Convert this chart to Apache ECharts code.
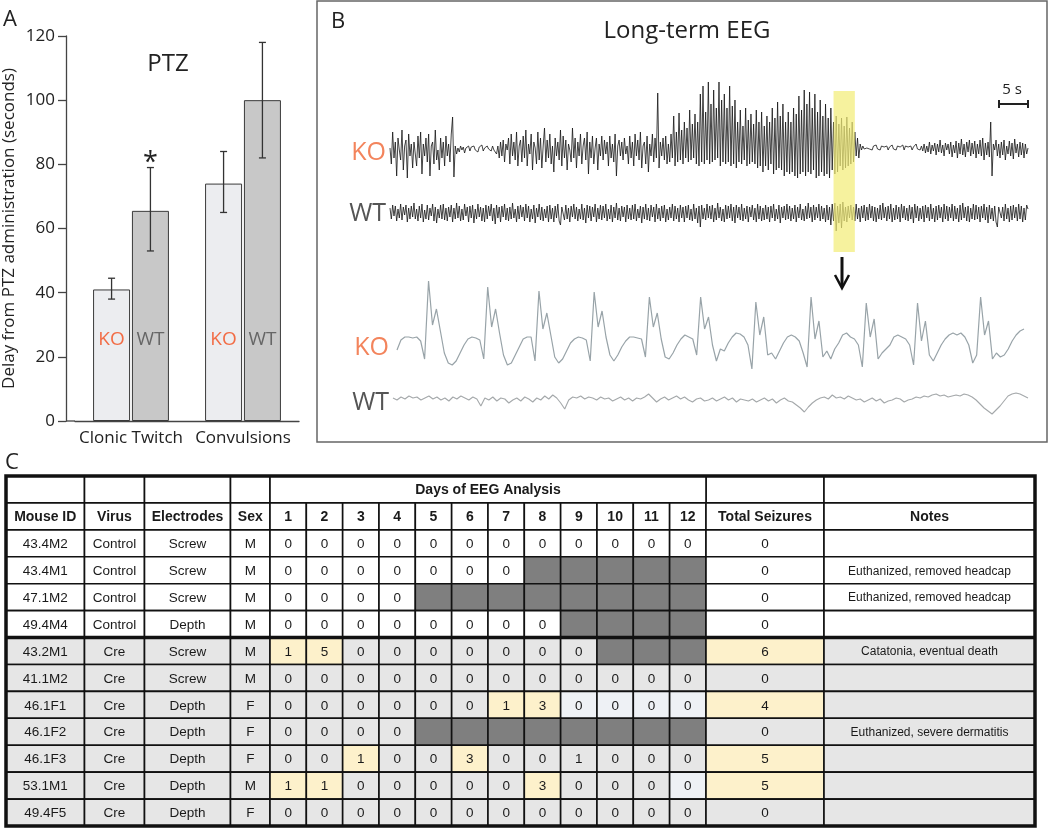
<!DOCTYPE html>
<html>
<head>
<meta charset="utf-8">
<script src="https://cdn.jsdelivr.net/npm/echarts@6/dist/echarts.min.js"></script>
<style>
  html, body { margin: 0; padding: 0; background: #fff; }
  #chart { width: 1050px; height: 831px; }
</style>
</head>
<body>
<div id="chart"></div>
<script>
// ---------- panel A : PTZ latency ----------
const ptzCategories = ["Clonic Twitch", "Convulsions"];
const koMeans = [41, 74];
const koErrLow = [38, 65];
const koErrHigh = [44.5, 84];
const wtMeans = [65.5, 100];
const wtErrLow = [53, 82];
const wtErrHigh = [79, 118];
const significance = ["*", ""];

// ---------- panel B : EEG traces ----------
const koLongTrace = [
  4,-12,20,-6,10,-24,14,2,-8,22,-18,6,12,-26,18,-4,8,-16,10,-2,
  -14,16,-6,20,-22,8,-4,14,-10,18,-24,6,10,-12,22,-8,2,-18,14,-6,
  10,-14,16,-4,8,-10,18,35,-25,6,-2,4,0,6,2,5,-1,4,3,6,
  1,5,3,6,2,4,0,5,3,7,1,4,2,6,3,5,1,6,2,4,
  -2,6,-6,10,-4,12,-10,8,2,14,-12,18,-4,10,-8,20,-14,6,12,-10,
  16,-6,22,-14,8,-2,18,-18,10,4,-12,20,-8,14,-16,6,24,-10,12,-6,
  18,-12,6,-20,14,-4,10,-8,22,-14,16,-6,12,-18,8,2,-10,24,-6,14,
  -16,10,-4,18,-12,6,14,-8,20,-22,10,-6,16,-12,4,14,-18,8,-4,16,
  -8,12,-2,10,-14,16,-6,8,-10,18,-24,6,12,-4,10,-8,14,-2,6,-12,
  16,-6,10,-14,18,-4,12,-8,20,-16,6,10,-12,16,-20,8,-4,18,-10,14,
  -6,59,-16,10,-4,14,-8,16,-12,8,-10,18,-6,36,-14,20,-10,39,-8,22,
  -12,30,-6,24,-10,42,-8,28,-6,38,-12,30,-14,58,-10,66,-12,40,-8,70,
  -12,48,-10,62,-8,44,-6,70,-14,52,-10,58,-12,44,-10,66,-14,46,-12,52,
  -16,30,-10,42,-12,26,-8,44,-14,32,-12,38,-10,28,-12,42,-16,30,-14,40,
  -20,26,-14,36,-18,30,-12,44,-22,34,-18,50,-16,36,-18,48,-24,30,-20,40,
  -22,30,-20,44,-24,38,-26,56,-22,42,-20,62,-24,48,-20,60,-22,44,-18,58,
  -26,40,-24,52,-20,36,-24,48,-22,34,-26,44,-18,30,-22,36,-20,28,-14,34,
  -18,26,-16,35,-14,24,-12,30,-10,20,-4,14,-6,8,2,6,3,5,4,6,
  3,5,2,6,4,7,3,5,2,6,4,5,3,6,2,5,4,7,3,5,
  2,6,4,5,3,7,2,6,4,5,3,6,2,5,4,8,3,5,2,6,
  1,8,-1,6,0,10,-2,7,1,9,-3,8,0,12,-1,7,-4,9,2,8,
  -2,10,-5,7,-1,11,-6,9,-2,13,-3,8,-5,10,0,12,-4,9,-2,11,
  -6,8,-2,12,-4,14,-8,9,-3,10,-5,30,-24,8,2,12,-4,8,-6,10,
  -3,12,-8,6,-2,11,-4,9,-7,13,-1,8,-5,10,-3,9,-6,8,-2,4
];
const wtLongTrace = [
  5,-6,8,-3,7,-8,4,-5,9,-7,6,-2,8,-9,5,-6,7,-4,10,-6,
  4,-8,7,-5,9,-9,3,-6,8,-7,5,-3,9,-8,6,-10,4,-5,8,-6,
  9,-7,5,-8,6,-4,8,-9,5,-6,10,-5,7,-8,4,-7,9,-3,6,-9,
  7,-5,8,-10,4,-6,9,-4,6,-8,5,-9,8,-6,7,-3,9,-8,5,-11,
  8,-5,6,-9,7,-4,9,-7,5,-8,6,-6,10,-5,4,-9,7,-6,8,-4,
  6,-8,9,-5,7,-9,4,-6,8,-10,5,-4,9,-7,6,-8,4,-5,7,-9,
  8,-6,5,-9,7,-5,9,-8,-12,6,4,-7,8,-6,5,-9,7,-4,9,-6,
  6,-8,4,-6,9,-7,5,-10,8,-5,7,-8,6,-4,9,-9,5,-6,8,-7,
  7,-5,9,-8,4,-6,8,-9,6,-5,10,-7,5,-8,7,-4,6,-9,8,-6,
  5,-7,8,-6,9,-8,4,-5,7,-10,6,-6,9,-7,5,-8,8,-4,6,-9,
  9,-6,5,-8,7,-5,8,-9,4,-7,6,-5,9,-8,7,-6,5,-9,8,-5,
  6,-9,7,-5,8,-7,4,-8,9,-6,5,-10,7,-14,8,-6,5,-7,9,-5,
  7,-6,8,-9,5,-7,10,-5,6,-8,4,-9,8,-6,7,-5,9,-8,6,-10,
  8,-5,6,-7,9,-8,5,-6,7,-9,6,-4,8,-7,5,-9,9,-6,7,-8,
  5,-7,8,-6,6,-9,7,-5,9,-8,4,-6,8,-10,6,-5,7,-7,9,-6,
  7,-8,5,-6,8,-9,6,-5,9,-7,4,-8,7,-6,10,-5,6,-9,8,-7,
  6,-5,9,-8,7,-6,5,-9,8,-7,6,-12,9,-8,10,-18,7,-10,9,-15,
  11,-8,6,-9,7,-5,8,-7,6,-8,9,-6,5,-9,7,-5,8,-8,6,-7,
  9,-5,7,-8,6,-9,5,-6,8,-7,10,-5,6,-8,7,-6,9,-9,5,-7,
  8,-6,6,-9,9,-5,7,-7,5,-8,8,-6,6,-10,9,-5,7,-8,5,-6,
  7,-9,8,-5,6,-8,9,-6,5,-9,7,-7,8,-5,6,-9,9,-6,7,-8,
  6,-5,9,-8,7,-6,5,-9,8,-7,10,-5,6,-8,7,-9,5,-6,9,-7,
  8,-6,6,-9,7,-5,9,-7,6,-10,8,-6,5,-8,7,-9,-14,6,8,-5,
  6,-8,9,-6,5,-9,7,-7,8,-5,6,-8,9,-6,7,-9,5,-7,8,4
];
const highlightWindow = [333, 349];   // sample range that is expanded below

const koZoomTrace = [
  -25,-15,-12,-12,-13,-12,-16,-34,44,0,
  16,-6,-28,-38,-40,-36,-28,-20,-14,-12,
  -13,-15,-34,38,-2,16,-8,-30,-40,-38,
  -30,-22,-14,-12,-12,-36,34,-4,12,-10,
  -32,-38,-34,-26,-18,-14,-12,-13,-15,-36,
  33,-2,14,-12,-30,-36,-30,-22,-16,-12,
  -12,-13,-14,-32,28,-2,12,-14,-32,-34,
  -28,-20,-14,-10,-12,-14,-30,28,-4,8,
  -20,-36,-24,-26,-18,-12,-8,-9,-12,-20,
  -44,23,-10,8,-30,-28,-34,-26,-18,-12,
  -10,-12,-16,-28,-42,28,-14,4,-32,-26,
  -34,-24,-18,-10,-8,-12,-14,-20,-42,22,
  -12,6,-34,-28,-24,-20,-12,-10,-12,-14,
  -20,-40,22,-16,4,-30,-36,-28,-20,-14,
  -10,-8,-10,-8,-12,-20,-38,-30,28,-10,
  4,-34,-28,-32,-30,-24,-16,-10,-6,-4
];
const wtZoomTrace = [
  2,0,3,1,4,2,3,0,2,4,
  1,3,0,2,-1,3,1,4,2,0,
  3,1,-6,2,0,3,-1,2,1,-3,
  0,2,-1,3,1,-2,2,0,4,1,
  5,2,-3,-9,0,3,2,4,1,3,
  2,0,3,1,2,-1,1,3,0,2,
  -1,2,1,3,6,2,-2,1,3,0,
  2,4,1,3,0,-2,1,2,-1,0,
  2,-1,1,3,0,2,-2,1,0,-1,
  1,-2,0,2,-1,1,-3,0,2,-1,
  -2,-5,-8,-12,-7,-3,0,2,3,1,
  5,2,3,1,4,2,0,1,-2,0,
  2,-1,1,-3,-1,0,2,1,-2,0,
  1,3,2,4,3,5,6,4,5,3,
  4,5,4,6,5,3,0,-4,-8,-11,
  -14,-10,-6,-1,4,6,7,6,4,2
];

// ---------- panel C : seizure table ----------
const columnNames = ["Mouse ID", "Virus", "Electrodes", "Sex",
  "1", "2", "3", "4", "5", "6", "7", "8", "9", "10", "11", "12",
  "Total Seizures", "Notes"];
const mouseIds = ["43.4M2", "43.4M1", "47.1M2", "49.4M4", "43.2M1", "41.1M2",
  "46.1F1", "46.1F2", "46.1F3", "53.1M1", "49.4F5"];
const viruses = ["Control", "Control", "Control", "Control", "Cre", "Cre",
  "Cre", "Cre", "Cre", "Cre", "Cre"];
const electrodes = ["Screw", "Screw", "Screw", "Depth", "Screw", "Screw",
  "Depth", "Depth", "Depth", "Depth", "Depth"];
const sexes = ["M", "M", "M", "M", "M", "M", "F", "F", "F", "M", "F"];
// null = no recording that day
const seizuresPerDay = [
  [0, 0, 0, 0, 0, 0, 0, 0, 0, 0, 0, 0],
  [0, 0, 0, 0, 0, 0, 0, null, null, null, null, null],
  [0, 0, 0, 0, null, null, null, null, null, null, null, null],
  [0, 0, 0, 0, 0, 0, 0, 0, null, null, null, null],
  [1, 5, 0, 0, 0, 0, 0, 0, 0, null, null, null],
  [0, 0, 0, 0, 0, 0, 0, 0, 0, 0, 0, 0],
  [0, 0, 0, 0, 0, 0, 1, 3, 0, 0, 0, 0],
  [0, 0, 0, 0, null, null, null, null, null, null, null, null],
  [0, 0, 1, 0, 0, 3, 0, 0, 1, 0, 0, 0],
  [1, 1, 0, 0, 0, 0, 0, 3, 0, 0, 0, 0],
  [0, 0, 0, 0, 0, 0, 0, 0, 0, 0, 0, 0]
];
const totalSeizures = [0, 0, 0, 0, 6, 0, 4, 0, 5, 5, 0];
const notes = ["", "Euthanized, removed headcap", "Euthanized, removed headcap", "",
  "Catatonia, eventual death", "", "", "Euthanized, severe dermatitis", "", "", ""];
const notHighlighted = [["46.1F3", 9]];   // cells with seizures left unshaded in the source
const paleCells = [["46.1F1", 9], ["46.1F1", 10], ["46.1F1", 11], ["46.1F1", 12], ["53.1M1", 12]];

// ---------- layout ----------
const FONT = "'Open Sans', sans-serif";
const TFONT = "'Liberation Sans', Arial, sans-serif";
const BAR_W = 37;
const BAR_GAP = 0.05;
const colWidths = [78.5, 60, 86, 39.5,
  36.33, 36.33, 36.33, 36.33, 36.33, 36.33, 36.33, 36.33, 36.33, 36.33, 36.33, 36.37,
  118, 211];
const colStart = [0];
colWidths.forEach((w, i) => colStart.push(colStart[i] + w));
const TABLE = { left: 6, top: 476, width: 1029, height: 350, rows: 13 };

// ---------- table cells ----------
const tableCells = [];
function addCell(c0, c1, row, text, fill, opts) {
  tableCells.push(Object.assign({ c0, c1, row, text, fill, bold: false, size: 13.5 }, opts || {}));
}
const inList = (list, id, day) => list.some(([m, d]) => m === id && d === day);
[[0, 1], [1, 2], [2, 3], [3, 4], [16, 17], [17, 18]].forEach(([a, b]) => addCell(a, b, 0, "", "#fff"));
addCell(4, 16, 0, "Days of EEG Analysis", "#fff", { bold: true, size: 14 });
columnNames.forEach((n, c) => addCell(c, c + 1, 1, n, "#fff", { bold: true, size: 14 }));
mouseIds.forEach((id, r) => {
  const row = r + 2;
  const cre = viruses[r] === "Cre";
  const base = cre ? "#e6e6e6" : "#ffffff";
  const yellow = "#fdf1cb";
  addCell(0, 1, row, id, base);
  addCell(1, 2, row, viruses[r], base);
  addCell(2, 3, row, electrodes[r], base);
  addCell(3, 4, row, sexes[r], base);
  seizuresPerDay[r].forEach((v, d) => {
    let fill = base;
    if (v === null) fill = "#7f7f7f";
    else if (v > 0 && !inList(notHighlighted, id, d + 1)) fill = yellow;
    else if (inList(paleCells, id, d + 1)) fill = "#eef1f5";
    addCell(4 + d, 5 + d, row, v === null ? "" : String(v), fill);
  });
  addCell(16, 17, row, String(totalSeizures[r]), totalSeizures[r] > 0 ? yellow : base);
  addCell(17, 18, row, notes[r], base, { size: 12 });
});

// ---------- chart ----------
const chart = echarts.init(document.getElementById("chart"));

function errorBars(side, marks) {
  return function (params, api) {
    const cat = api.value(0);
    const lo = api.coord([cat, api.value(1)]);
    const hi = api.coord([cat, api.value(2)]);
    const x = lo[0] + side * (BAR_W * (1 + BAR_GAP)) / 2;
    const cap = 3.5;
    const st = { stroke: "#333", lineWidth: 1.3 };
    const children = [
      { type: "line", shape: { x1: x, y1: lo[1], x2: x, y2: hi[1] }, style: st },
      { type: "line", shape: { x1: x - cap, y1: lo[1], x2: x + cap, y2: lo[1] }, style: st },
      { type: "line", shape: { x1: x - cap, y1: hi[1], x2: x + cap, y2: hi[1] }, style: st }
    ];
    if (marks && marks[params.dataIndex]) {
      children.push({ type: "text", style: { text: marks[params.dataIndex], x: x, y: hi[1] + 9,
        align: "center", verticalAlign: "bottom", fontSize: 27, fontFamily: FONT, fill: "#222" } });
    }
    return { type: "group", children };
  };
}

const traceGrid = (top, height, left, width) => ({ left, top, width, height });

const option = {
  animation: false,
  backgroundColor: "#fff",
  title: [
    { text: "PTZ", left: 163, top: 47, textAlign: "center",
      textStyle: { fontFamily: FONT, fontSize: 24, fontWeight: "normal", color: "#222" } },
    { text: "Long-term EEG", left: 682, top: 14, textAlign: "center",
      textStyle: { fontFamily: FONT, fontSize: 24, fontWeight: "normal", color: "#222" } }
  ],
  grid: [
    { left: 75, top: 36, width: 224, height: 385 },
    traceGrid(72, 160, 390, 638),
    traceGrid(183, 60, 390, 638),
    traceGrid(91, 161, 390, 638),
    traceGrid(270, 110, 397, 627),
    traceGrid(380, 40, 393, 635),
    { left: TABLE.left, top: TABLE.top, width: TABLE.width, height: TABLE.height }
  ],
  xAxis: [
    { gridIndex: 0, type: "category", data: ptzCategories,
      axisLine: { lineStyle: { color: "#444", width: 1.3 } },
      axisTick: { length: 7, lineStyle: { color: "#444", width: 1.3 } },
      axisLabel: { interval: 0, fontFamily: FONT, fontSize: 17, color: "#222", margin: 9 } },
    { gridIndex: 1, type: "value", min: 0, max: koLongTrace.length - 1, show: false },
    { gridIndex: 2, type: "value", min: 0, max: wtLongTrace.length - 1, show: false },
    { gridIndex: 3, type: "value", min: 0, max: koLongTrace.length - 1, show: false },
    { gridIndex: 4, type: "value", min: 0, max: koZoomTrace.length - 1, show: false },
    { gridIndex: 5, type: "value", min: 0, max: wtZoomTrace.length - 1, show: false },
    { gridIndex: 6, type: "value", min: 0, max: TABLE.width, show: false }
  ],
  yAxis: [
    { gridIndex: 0, type: "value", min: 0, max: 120, interval: 20, offset: 9,
      name: "Delay from PTZ administration (seconds)", nameLocation: "middle", nameGap: 48,
      nameTextStyle: { fontFamily: FONT, fontSize: 17, color: "#222" },
      axisLine: { show: true, lineStyle: { color: "#444", width: 1.3 } },
      axisTick: { show: true, length: 8, lineStyle: { color: "#444", width: 1.3 } },
      axisLabel: { fontFamily: FONT, fontSize: 17, color: "#222", margin: 11 },
      splitLine: { show: false } },
    { gridIndex: 1, type: "value", min: -80, max: 80, show: false },
    { gridIndex: 2, type: "value", min: -30, max: 30, show: false },
    { gridIndex: 3, type: "value", min: 0, max: 1, show: false },
    { gridIndex: 4, type: "value", min: -55, max: 55, show: false },
    { gridIndex: 5, type: "value", min: -20, max: 20, show: false },
    { gridIndex: 6, type: "value", min: 0, max: TABLE.rows, inverse: true, show: false }
  ],
  series: [
    { type: "bar", xAxisIndex: 0, yAxisIndex: 0, data: koMeans, barWidth: BAR_W, barGap: "5%",
      itemStyle: { color: "#ecedf0", borderColor: "#3a3a3a", borderWidth: 1 },
      label: { show: true, position: "insideBottom", distance: 72, formatter: "KO",
        fontFamily: FONT, fontSize: 19, color: "#f26c45" } },
    { type: "bar", xAxisIndex: 0, yAxisIndex: 0, data: wtMeans, barWidth: BAR_W, barGap: "5%",
      itemStyle: { color: "#c8c8c8", borderColor: "#3a3a3a", borderWidth: 1 },
      label: { show: true, position: "insideBottom", distance: 72, formatter: "WT",
        fontFamily: FONT, fontSize: 19, color: "#666" } },
    { type: "custom", xAxisIndex: 0, yAxisIndex: 0, z: 5,
      renderItem: errorBars(-1),
      data: ptzCategories.map((c, i) => [i, koErrLow[i], koErrHigh[i]]) },
    { type: "custom", xAxisIndex: 0, yAxisIndex: 0, z: 5,
      renderItem: errorBars(1, significance),
      data: ptzCategories.map((c, i) => [i, wtErrLow[i], wtErrHigh[i]]) },

    { type: "line", xAxisIndex: 1, yAxisIndex: 1, symbol: "none", silent: true,
      data: koLongTrace.map((v, i) => [i, v]),
      lineStyle: { color: "#151515", width: 0.8 } },
    { type: "line", xAxisIndex: 2, yAxisIndex: 2, symbol: "none", silent: true,
      data: wtLongTrace.map((v, i) => [i, v]),
      lineStyle: { color: "#151515", width: 0.8 } },
    { type: "custom", xAxisIndex: 3, yAxisIndex: 3, z: 10, silent: true,
      data: [highlightWindow],
      renderItem: function (params, api) {
        const a = api.coord([api.value(0), 0]);
        const b = api.coord([api.value(1), 1]);
        return { type: "rect", shape: { x: a[0], y: b[1], width: b[0] - a[0], height: a[1] - b[1] },
          style: { fill: "rgba(243,237,120,0.72)" } };
      } },
    { type: "line", xAxisIndex: 4, yAxisIndex: 4, symbol: "none", silent: true,
      data: koZoomTrace.map((v, i) => [i, v]),
      lineStyle: { color: "#98a3a8", width: 1.2 } },
    { type: "line", xAxisIndex: 5, yAxisIndex: 5, symbol: "none", silent: true,
      data: wtZoomTrace.map((v, i) => [i, v]),
      lineStyle: { color: "#a4a8aa", width: 1.1 } },

    { type: "custom", xAxisIndex: 6, yAxisIndex: 6, silent: true,
      data: tableCells.map(c => [colStart[c.c0], colStart[c.c1], c.row]),
      renderItem: function (params, api) {
        const cell = tableCells[params.dataIndex];
        const p0 = api.coord([api.value(0), api.value(2)]);
        const p1 = api.coord([api.value(1), api.value(2) + 1]);
        return { type: "group", children: [
          { type: "rect", shape: { x: p0[0], y: p0[1], width: p1[0] - p0[0], height: p1[1] - p0[1] },
            style: { fill: cell.fill, stroke: "#111", lineWidth: 1.6 } },
          { type: "text", style: { text: cell.text, x: (p0[0] + p1[0]) / 2, y: (p0[1] + p1[1]) / 2 + 1,
            align: "center", verticalAlign: "middle", fontFamily: TFONT, fontSize: cell.size,
            fontWeight: cell.bold ? "bold" : "normal", fill: "#1a1a1a" } }
        ] };
      } }
  ],
  graphic: [
    { type: "text", left: 3, top: 9, style: { text: "A", fontFamily: FONT, fontSize: 22, fill: "#222" } },
    { type: "text", left: 331, top: 11, style: { text: "B", fontFamily: FONT, fontSize: 22, fill: "#222" } },
    { type: "text", left: 5, top: 452, style: { text: "C", fontFamily: FONT, fontSize: 22, fill: "#222" } },
    // x axis line runs under the offset y axis
    { type: "line", shape: { x1: 66, y1: 421, x2: 75, y2: 421 }, style: { stroke: "#444", lineWidth: 1.3 } },
    // panel B frame
    { type: "rect", shape: { x: 317, y: 1, width: 730, height: 441 }, style: { fill: "none", stroke: "#666", lineWidth: 1.5 } },
    { type: "text", x: 386, y: 153, style: { text: "KO", align: "right", verticalAlign: "middle", fontFamily: FONT, fontSize: 25, fill: "#f3845c" } },
    { type: "text", x: 386, y: 214, style: { text: "WT", align: "right", verticalAlign: "middle", fontFamily: FONT, fontSize: 25, fill: "#555" } },
    { type: "text", x: 389, y: 348, style: { text: "KO", align: "right", verticalAlign: "middle", fontFamily: FONT, fontSize: 25, fill: "#f3845c" } },
    { type: "text", x: 389, y: 403, style: { text: "WT", align: "right", verticalAlign: "middle", fontFamily: FONT, fontSize: 25, fill: "#555" } },
    // 5 s scale bar
    { type: "text", x: 1012, y: 90, style: { text: "5 s", align: "center", verticalAlign: "middle", fontFamily: FONT, fontSize: 15, fill: "#222" } },
    { type: "polyline", shape: { points: [[999, 100], [999, 108], [999, 104], [1028, 104], [1028, 100], [1028, 108]] }, style: { fill: "none", stroke: "#222", lineWidth: 2 } },
    // arrow into the expanded view
    { type: "line", shape: { x1: 842, y1: 257, x2: 842, y2: 287 }, style: { stroke: "#111", lineWidth: 3 } },
    { type: "polyline", shape: { points: [[835, 275], [842, 288], [849, 275]] }, style: { fill: "none", stroke: "#111", lineWidth: 2.5 } },
    // table frame and group separator
    { type: "rect", shape: { x: TABLE.left, y: TABLE.top, width: TABLE.width, height: TABLE.height },
      style: { fill: "none", stroke: "#111", lineWidth: 3.5 }, z: 100 },
    { type: "line", shape: { x1: TABLE.left, y1: TABLE.top + 6 * TABLE.height / TABLE.rows,
      x2: TABLE.left + TABLE.width, y2: TABLE.top + 6 * TABLE.height / TABLE.rows },
      style: { stroke: "#111", lineWidth: 3.5 }, z: 100 }
  ]
};

chart.setOption(option);
</script>
</body>
</html>
